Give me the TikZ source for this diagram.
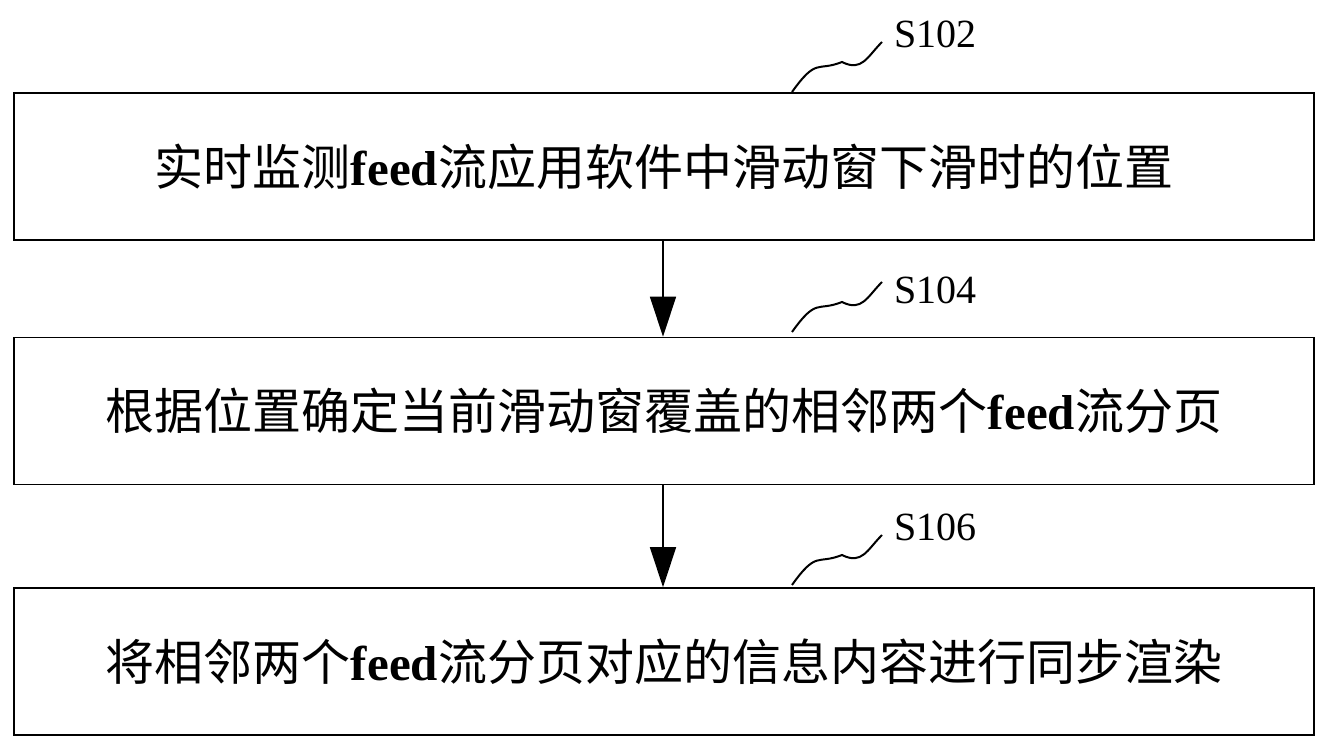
\documentclass[tikz,border=0pt]{standalone}
\usepackage{fontspec}
\setmainfont{Liberation Serif}
\newfontfamily\cjk{Noto Sans CJK SC}
\newcommand{\feedw}{{\rmfamily\bfseries feed}}
\usetikzlibrary{arrows.meta}
\begin{document}
\begin{tikzpicture}[x=1pt,y=-1pt,
  box/.style={draw,line width=1.6pt,minimum width=1300pt,minimum height=147pt,inner sep=0pt,font=\fontsize{49}{53}\selectfont\cjk},
  lab/.style={font=\fontsize{40}{44}\selectfont},
  arr/.style={line width=1.6pt,-{Triangle[length=40pt,width=26pt]}},
  sq/.style={line width=2pt}]
\useasboundingbox (0,0) rectangle (1331,751);
\node[box] (b1) at (664,166.5) {实时监测\feedw 流应用软件中滑动窗下滑时的位置};
\node[box] (b2) at (664,411) {根据位置确定当前滑动窗覆盖的相邻两个\feedw 流分页};
\node[box] (b3) at (664,661.5) {将相邻两个\feedw 流分页对应的信息内容进行同步渲染};
\draw[arr] (b1.south -| 663,0) -- (b2.north -| 663,0);
\draw[arr] (b2.south -| 663,0) -- (b3.north -| 663,0);
\node[lab,anchor=west] (l1) at (891,34) {S102};
\node[lab,anchor=west] (l2) at (891,290) {S104};
\node[lab,anchor=west] (l3) at (891,527) {S106};
\coordinate (s1) at (792,92);
\coordinate (s2) at (792,332);
\coordinate (s3) at (792,585);
\foreach \s/\l in {s1/l1,s2/l2,s3/l3}{
  \draw[sq] (\s) .. controls ++(25,-35) and ++(-25,10) .. ++(50,-30) .. controls ++(20,10) and ++(-15,15) .. ++(40,-20);
}
\end{tikzpicture}
\end{document}
